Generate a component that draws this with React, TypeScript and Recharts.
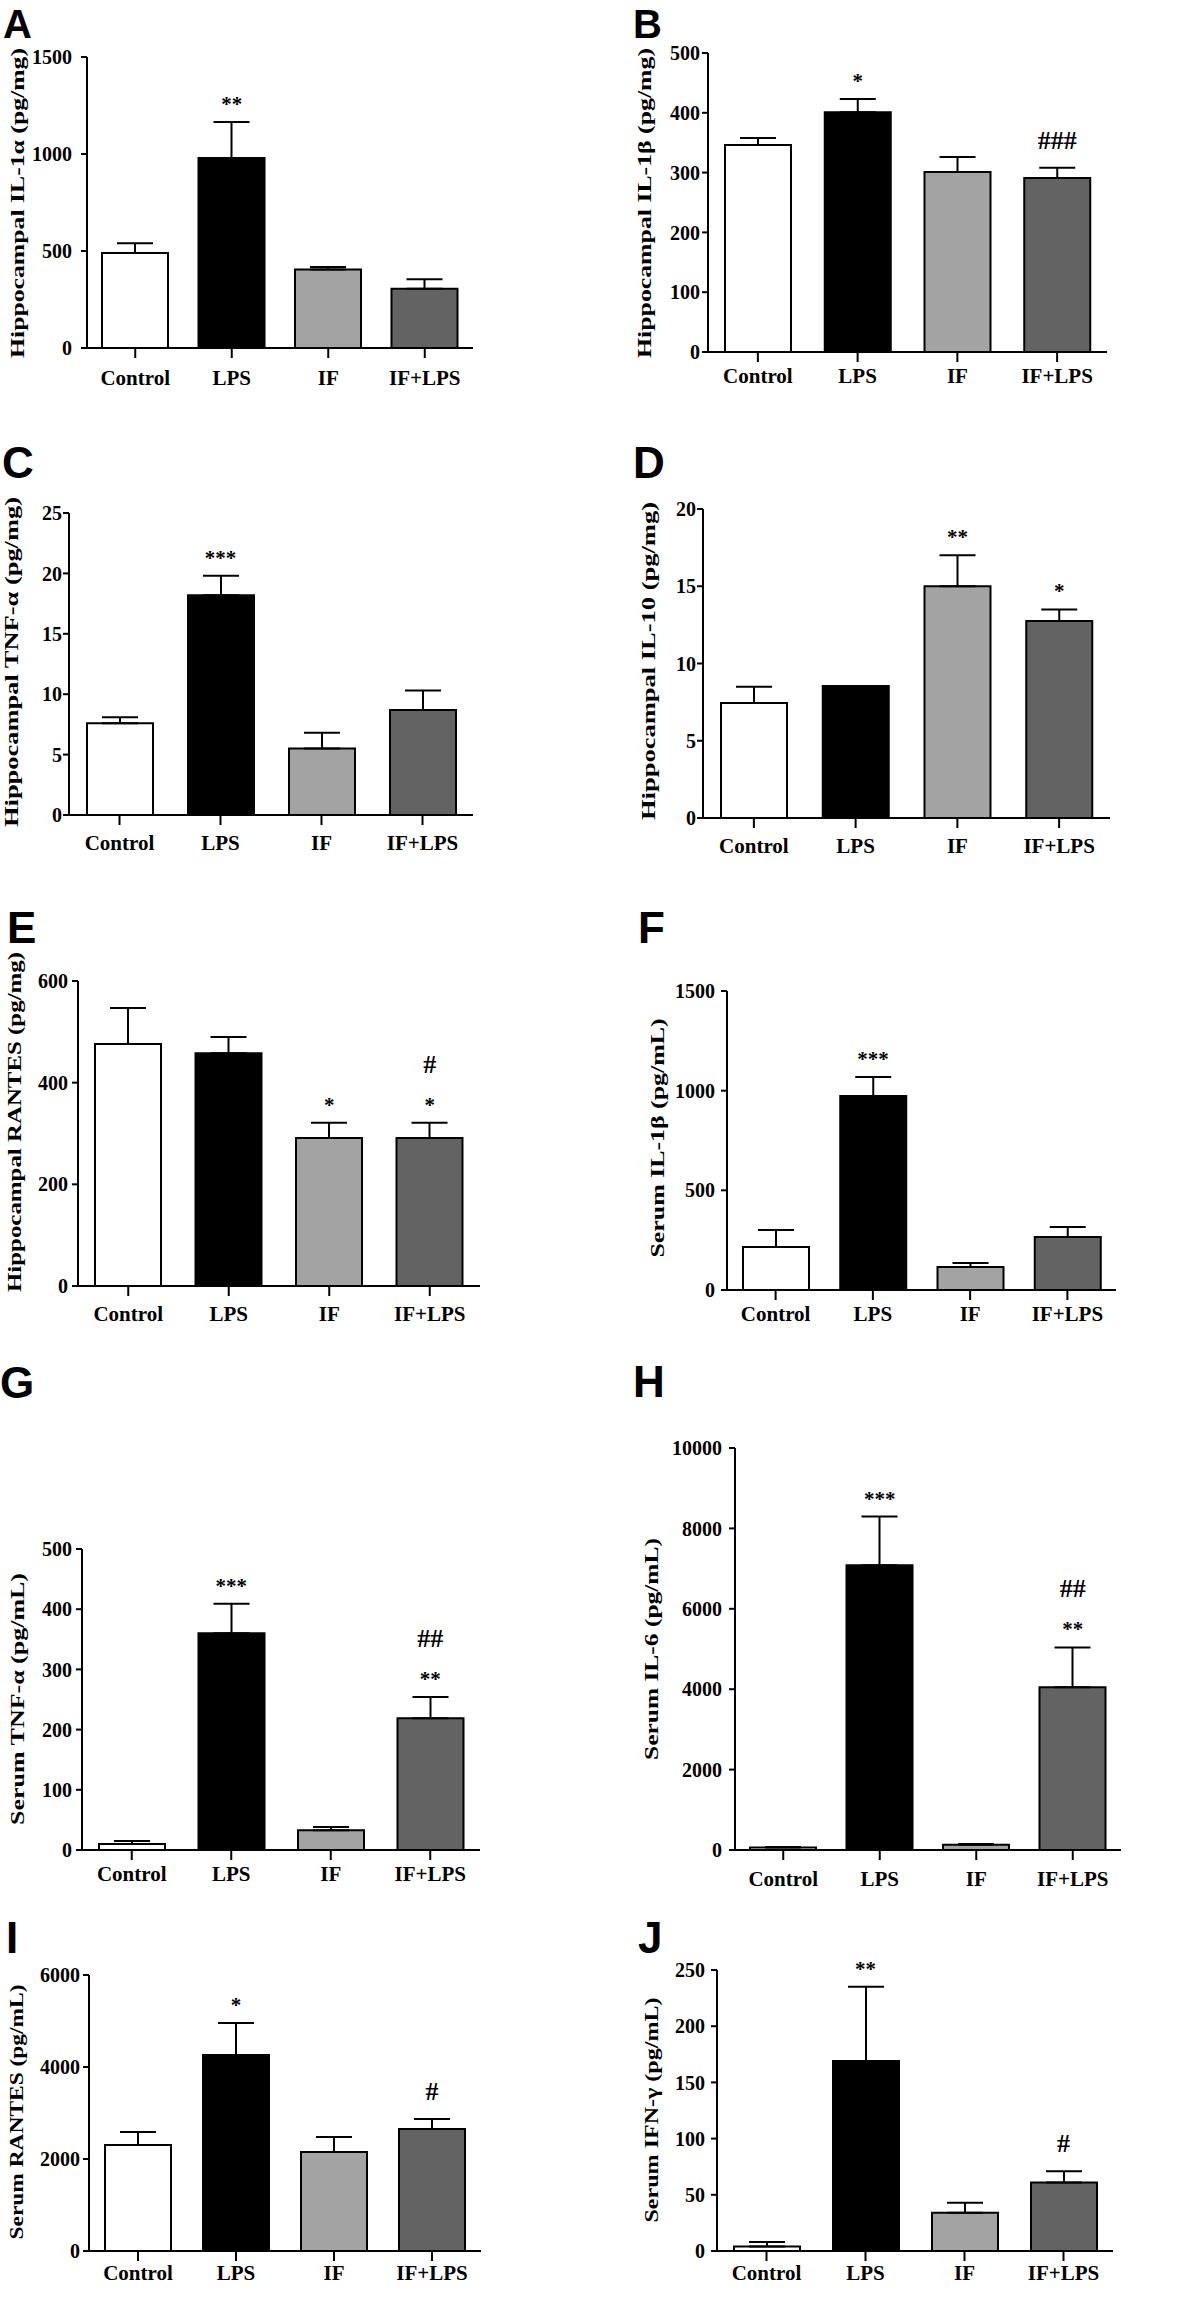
import React from "react";
import { BarChart, Bar, XAxis, YAxis, ErrorBar, Cell, ReferenceDot } from "recharts";

const groups = ["Control", "LPS", "IF", "IF+LPS"];
const groupFills = ["#ffffff", "#000000", "#a3a3a3", "#636363"];

// A - hippocampal IL-1a
const aMean = [490, 980, 405, 305];
const aSem = [50, 185, 12, 50];
const aStar = ["", "**", "", ""];
const aHash = ["", "", "", ""];
const aTicks = [0, 500, 1000, 1500];

// B - hippocampal IL-1b
const bMean = [346, 401, 301, 291];
const bSem = [12, 22, 25, 17];
const bStar = ["", "*", "", ""];
const bHash = ["", "", "", "###"];
const bTicks = [0, 100, 200, 300, 400, 500];

// C - hippocampal TNF-a
const cMean = [7.6, 18.2, 5.5, 8.7];
const cSem = [0.5, 1.6, 1.3, 1.6];
const cStar = ["", "***", "", ""];
const cHash = ["", "", "", ""];
const cTicks = [0, 5, 10, 15, 20, 25];

// D - hippocampal IL-10
const dMean = [7.45, 8.55, 15.0, 12.75];
const dSem = [1.05, 0, 2.0, 0.75];
const dStar = ["", "", "**", "*"];
const dHash = ["", "", "", ""];
const dTicks = [0, 5, 10, 15, 20];

// E - hippocampal RANTES
const eMean = [476, 458, 291, 291];
const eSem = [71, 32, 30, 30];
const eStar = ["", "", "*", "*"];
const eHash = ["", "", "", "#"];
const eTicks = [0, 200, 400, 600];

// F - serum IL-1b
const fMean = [216, 973, 115, 266];
const fSem = [85, 96, 20, 50];
const fStar = ["", "***", "", ""];
const fHash = ["", "", "", ""];
const fTicks = [0, 500, 1000, 1500];

// G - serum TNF-a
const gMean = [10, 360, 33, 219];
const gSem = [5, 49, 5, 35];
const gStar = ["", "***", "", "**"];
const gHash = ["", "", "", "##"];
const gTicks = [0, 100, 200, 300, 400, 500];

// H - serum IL-6
const hMean = [60, 7086, 130, 4049];
const hSem = [15, 1210, 20, 990];
const hStar = ["", "***", "", "**"];
const hHash = ["", "", "", "##"];
const hTicks = [0, 2000, 4000, 6000, 8000, 10000];

// I - serum RANTES
const iMean = [2304, 4261, 2152, 2652];
const iSem = [283, 696, 326, 218];
const iStar = ["", "*", "", ""];
const iHash = ["", "", "", "#"];
const iTicks = [0, 2000, 4000, 6000];

// J - serum IFN-g
const jMean = [4, 169, 34, 61];
const jSem = [4, 66, 9, 10];
const jStar = ["", "**", "", ""];
const jHash = ["", "", "", "#"];
const jTicks = [0, 50, 100, 150, 200, 250];

const panels = [
  { id: "A", title: "Hippocampal IL-1\u03b1 (pg/mg)", mean: aMean, sem: aSem, star: aStar, hash: aHash, ticks: aTicks,
    box: { px: 0, ax: 87, ty: 57, zy: 348, rx: 473, gap: 12, ym: 9 }, lab: { cx: 17, cy: 203, len: 310 }, letter: { x: 3, y: 38, s: 40 } },
  { id: "B", title: "Hippocampal IL-1\u03b2 (pg/mg)", mean: bMean, sem: bSem, star: bStar, hash: bHash, ticks: bTicks,
    box: { px: 600, ax: 708, ty: 53, zy: 352, rx: 1107, gap: 6, ym: 2 }, lab: { cx: 644, cy: 203, len: 310 }, letter: { x: 633, y: 38, s: 40 } },
  { id: "C", title: "Hippocampal TNF-\u03b1 (pg/mg)", mean: cMean, sem: cSem, star: cStar, hash: cHash, ticks: cTicks,
    box: { px: 0, ax: 69, ty: 513, zy: 815, rx: 473, gap: 10, ym: 1 }, lab: { cx: 11, cy: 662, len: 330 }, letter: { x: 2, y: 478, s: 44 } },
  { id: "D", title: "Hippocampal IL-10 (pg/mg)", mean: dMean, sem: dSem, star: dStar, hash: dHash, ticks: dTicks,
    box: { px: 600, ax: 703, ty: 509, zy: 818, rx: 1110, gap: 10, ym: 1 }, lab: { cx: 648, cy: 661, len: 318 }, letter: { x: 633, y: 478, s: 44 } },
  { id: "E", title: "Hippocampal RANTES (pg/mg)", mean: eMean, sem: eSem, star: eStar, hash: eHash, ticks: eTicks,
    box: { px: 0, ax: 78, ty: 981, zy: 1286, rx: 480, gap: 10, ym: 4 }, lab: { cx: 14, cy: 1122, len: 340 }, letter: { x: 7, y: 943, s: 44 } },
  { id: "F", title: "Serum IL-1\u03b2 (pg/mL)", mean: fMean, sem: fSem, star: fStar, hash: fHash, ticks: fTicks,
    box: { px: 600, ax: 727, ty: 991, zy: 1290, rx: 1116, gap: 6, ym: 6 }, lab: { cx: 657, cy: 1138, len: 239 }, letter: { x: 638, y: 943, s: 44 } },
  { id: "G", title: "Serum TNF-\u03b1 (pg/mL)", mean: gMean, sem: gSem, star: gStar, hash: gHash, ticks: gTicks,
    box: { px: 0, ax: 82, ty: 1549, zy: 1850, rx: 480, gap: 6, ym: 4 }, lab: { cx: 17, cy: 1699, len: 252 }, letter: { x: 0, y: 1398, s: 44 } },
  { id: "H", title: "Serum IL-6 (pg/mL)", mean: hMean, sem: hSem, star: hStar, hash: hHash, ticks: hTicks,
    box: { px: 600, ax: 735, ty: 1448, zy: 1850, rx: 1121, gap: 11, ym: 7 }, lab: { cx: 651, cy: 1649, len: 222 }, letter: { x: 633, y: 1397, s: 44 } },
  { id: "I", title: "Serum RANTES (pg/mL)", mean: iMean, sem: iSem, star: iStar, hash: iHash, ticks: iTicks,
    box: { px: 0, ax: 89, ty: 1975, zy: 2251, rx: 481, gap: 4, ym: 3 }, lab: { cx: 16, cy: 2112, len: 255 }, letter: { x: 6, y: 1953, s: 44 } },
  { id: "J", title: "Serum IFN-\u03b3 (pg/mL)", mean: jMean, sem: jSem, star: jStar, hash: jHash, ticks: jTicks,
    box: { px: 600, ax: 717, ty: 1970, zy: 2251, rx: 1113, gap: 4, ym: 6 }, lab: { cx: 651, cy: 2110, len: 225 }, letter: { x: 638, y: 1953, s: 44 } },
];

const MT = 30;
const XH = 50;
const MR = 10;
const serif = "'Liberation Serif', 'DejaVu Serif', serif";
const line = { stroke: "#000", strokeWidth: 2 };

function SigMark({ cx, cy, star, hash }: { cx: number; cy: number; star: string; hash: string }) {
  return (
    <g>
      {star ? (
        <text x={cx} y={cy - 11} textAnchor="middle" fontFamily={serif} fontWeight="bold" fontSize={21} fill="#000">
          {star}
        </text>
      ) : null}
      {hash ? (
        <text x={cx} y={star ? cy - 50 : cy - 19} textAnchor="middle" fontFamily={serif} fontWeight="bold" fontSize={26} fill="#000">
          {hash}
        </text>
      ) : null}
    </g>
  );
}

function Panel({ p }: { p: any }) {
  const b = p.box;
  const data = groups.map((g, i) => ({ group: g, mean: p.mean[i], err: [0, p.sem[i]] }));
  const w = b.rx - b.px + MR;
  const h = b.zy - b.ty + MT + XH;
  const max = p.ticks[p.ticks.length - 1];
  return (
    <div style={{ position: "absolute", left: b.px, top: b.ty - MT }}>
      <BarChart width={w} height={h} data={data} margin={{ top: MT, right: MR, bottom: 0, left: 0 }}>
        <XAxis
          dataKey="group"
          type="category"
          interval={0}
          height={XH}
          tickSize={10}
          tickMargin={b.gap}
          axisLine={line}
          tickLine={line}
          tick={{ fill: "#000", fontSize: 21, fontWeight: "bold", fontFamily: serif }}
        />
        <YAxis
          type="number"
          domain={[0, max]}
          ticks={p.ticks}
          interval={0}
          width={b.ax - b.px}
          tickSize={6}
          tickMargin={b.ym}
          axisLine={line}
          tickLine={line}
          tick={{ fill: "#000", fontSize: 20, fontWeight: "bold", fontFamily: serif }}
        />
        <Bar dataKey="mean" barSize={66} stroke="#000" strokeWidth={2} isAnimationActive={false}>
          {groups.map((g, i) => (
            <Cell key={g} fill={groupFills[i]} />
          ))}
          <ErrorBar dataKey="err" direction="y" width={18} stroke="#000" strokeWidth={2} isAnimationActive={false} />
        </Bar>
        {groups.map((g, i) =>
          p.star[i] || p.hash[i] ? (
            <ReferenceDot
              key={g}
              x={g}
              y={p.mean[i] + p.sem[i]}
              r={0}
              ifOverflow="visible"
              shape={(s: any) => <SigMark cx={s.cx} cy={s.cy} star={p.star[i]} hash={p.hash[i]} />}
            />
          ) : null
        )}
      </BarChart>
    </div>
  );
}

export default function App() {
  return (
    <div style={{ position: "absolute", left: 0, top: 0, width: 1200, height: 2324, background: "#fff" }}>
      {panels.map((p) => (
        <Panel key={p.id} p={p} />
      ))}
      <svg width={1200} height={2324} style={{ position: "absolute", left: 0, top: 0, pointerEvents: "none" }}>
        {panels.map((p) => (
          <g key={p.id}>
            <text
              x={p.letter.x}
              y={p.letter.y}
              fontFamily="'Liberation Sans', Arial, sans-serif"
              fontWeight="bold"
              fontSize={p.letter.s}
              fill="#000"
            >
              {p.id}
            </text>
            <text
              x={p.lab.cx}
              y={p.lab.cy}
              transform={`rotate(-90 ${p.lab.cx} ${p.lab.cy})`}
              textAnchor="middle"
              dominantBaseline="central"
              fontFamily={serif}
              fontWeight="bold"
              fontSize={19}
              textLength={p.lab.len}
              lengthAdjust="spacingAndGlyphs"
              fill="#000"
            >
              {p.title}
            </text>
          </g>
        ))}
      </svg>
    </div>
  );
}
